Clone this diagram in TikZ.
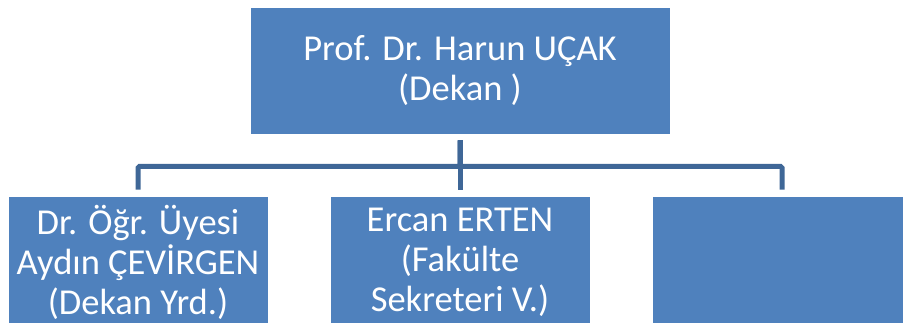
\documentclass[tikz,border=0pt]{standalone}
\usepackage{fontspec}
\setmainfont{Carlito}
\definecolor{kutumavi}{HTML}{4F81BD}
\definecolor{hatmavi}{HTML}{3F6797}
\tikzset{
  birim/.style={fill=kutumavi, draw=white, line width=0.6pt, text=white, align=center,
    font=\fontsize{36.5}{40}\selectfont, inner sep=0pt},
  baglanti/.style={draw=hatmavi, line width=5pt, rounded corners=1.5pt,
    shorten <=6pt, shorten >=6pt}
}

\begin{document}
\begin{tikzpicture}[x=1pt,y=-1pt]
\useasboundingbox (0,0) rectangle (903,323);
\clip (0,0) rectangle (903,323);
% dekan
\node[birim, minimum width=420pt, minimum height=127pt] (dekan) at (460,70.5)
	{Prof. Dr. Harun UÇAK\\(Dekan )};
% alt birimler
\node[birim, minimum width=260pt, minimum height=132pt] (yrd) at (138,262)
	{Dr. Öğr. Üyesi\\Aydın ÇEVİRGEN\\(Dekan Yrd.)};
\node[birim, minimum width=260pt, minimum height=132pt] (sekreter) at (460,262)
	{Ercan ERTEN\\(Fakülte\\Sekreteri V.)};
\node[birim, minimum width=260pt, minimum height=132pt] (bos) at (782,262) {};
% baglantilar
\draw[baglanti] (dekan.south) -- ++(0,32) -| (yrd.north);
\draw[baglanti] (dekan.south) -- (sekreter.north);
\draw[baglanti] (dekan.south) -- ++(0,32) -| (bos.north);
\end{tikzpicture}
\end{document}
